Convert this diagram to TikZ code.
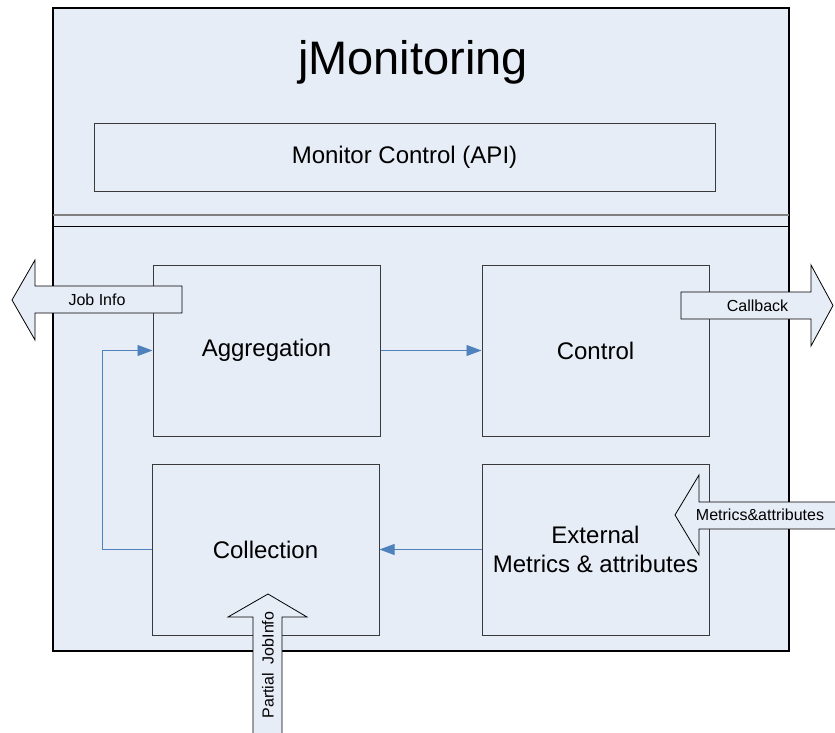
\documentclass[tikz,border=0pt]{standalone}
\usepackage{fontspec}
\setmainfont{Liberation Sans}
\usetikzlibrary{arrows.meta}
\definecolor{panelblue}{HTML}{E7EDF7}
\definecolor{linkblue}{HTML}{4F81BD}
\definecolor{framegray}{HTML}{3A3A3A}

\begin{document}
\begin{tikzpicture}[x=1pt,y=-1pt,
		block/.style={draw=framegray,line width=1pt,fill=panelblue,minimum width=227pt,minimum height=171pt,inner sep=0pt,align=center,font=\fontsize{24}{29}\selectfont},
		link/.style={draw=linkblue,line width=0.9pt,-{Triangle[length=15pt,width=11pt]}},
		bigarrow/.style={draw=black,line width=0.8pt,fill=panelblue},
		tag/.style={inner sep=0pt,font=\fontsize{16}{19}\selectfont}]
		\useasboundingbox (0,0) rectangle (835,733);
		% outer frame with the split between API and the modules
		\draw[line width=2pt,fill=panelblue] (53,8) rectangle (789,651);
		\draw[gray,line width=1.5pt] (53,215) -- (789,215);
		\draw[line width=1pt] (53,226) -- (789,226);
		\node (title) at (413,62) {\fontsize{47}{56}\selectfont jMonitoring};
		\node[block,minimum width=621pt,minimum height=67pt] (api) at (404.5,157.5) {Monitor Control (API)};
		
		\node[block] (aggregation) at (266.5,350.5) {Aggregation};
		\node[block] (control) at (595.5,350.5) {Control};
		\node[block] (collection) at (265.5,549.5) {Collection};
		\node[block] (external) at (595.5,549.5) {External\\Metrics \& attributes};
		
		\draw[link] (aggregation.east) -- (control.west);
		\draw[link] (external.west) -- (collection.east);
		\draw[link] (collection.west) -- ++(-49,0) |- (aggregation.west);
		
		% in/out arrows
		\filldraw[bigarrow] (182,286) -- (35,286) -- (35,260) -- (12,300) -- (35,340) -- (35,313) -- (182,313) -- cycle;
		\node[tag] (jobinfo) at (97,300) {Job Info};
		\filldraw[bigarrow] (681,292) -- (811,292) -- (811,265) -- (833,305.5) -- (811,346) -- (811,319) -- (681,319) -- cycle;
		\node[tag] (callback) at (757.5,305.5) {Callback};
		\filldraw[bigarrow] (840,502) -- (699,502) -- (699,475) -- (675,515) -- (699,555) -- (699,529) -- (840,529) -- cycle;
		\node[tag] (metrics) at (760,515) {Metrics\&attributes};
		\filldraw[bigarrow] (253,740) -- (253,617) -- (228,617) -- (268,594) -- (307,617) -- (282,617) -- (282,740) -- cycle;
		\node[tag,rotate=90] (partial) at (268,665) {Partial~~JobInfo};
		
	\end{tikzpicture}
\end{document}
